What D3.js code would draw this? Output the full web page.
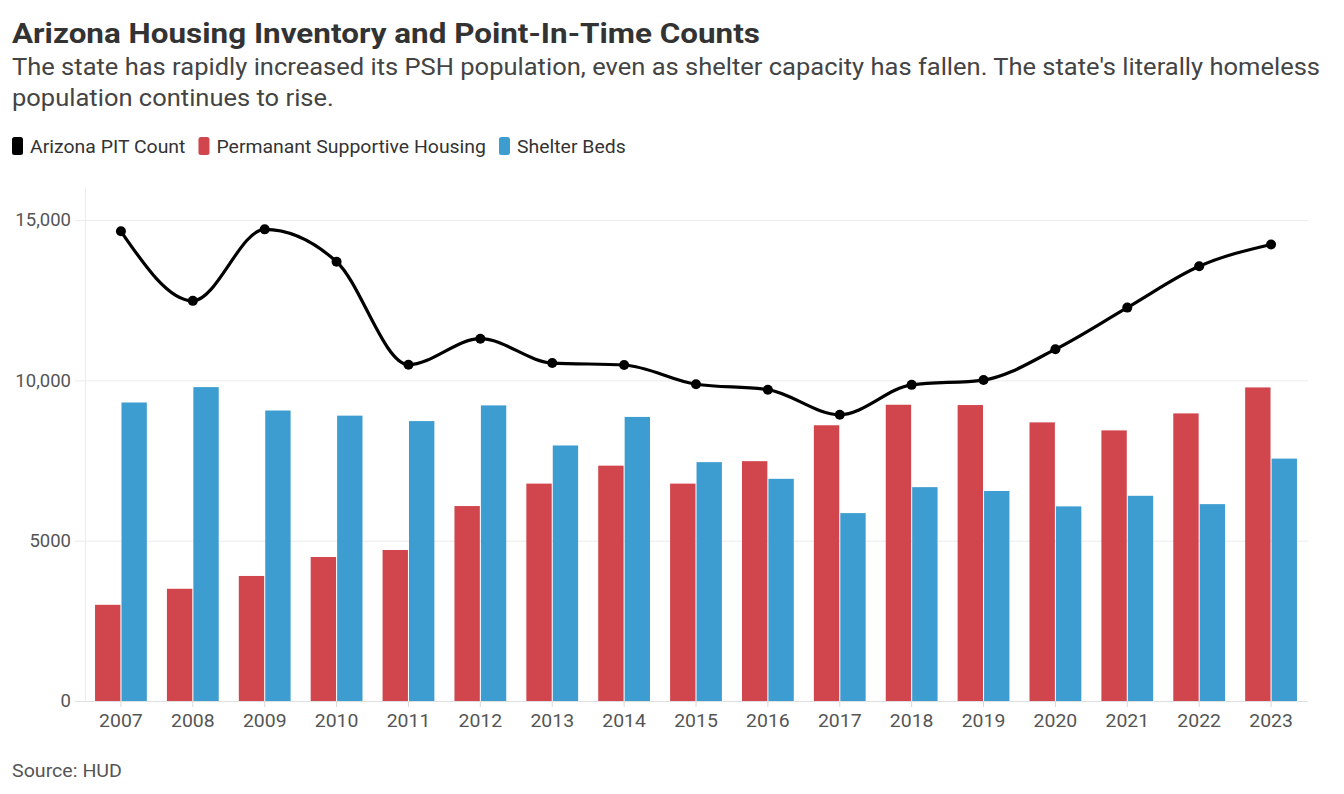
<!DOCTYPE html>
<html>
<head>
<meta charset="utf-8">
<script src="https://cdn.jsdelivr.net/npm/d3@7"></script>
<style>
  html, body { margin: 0; padding: 0; background: #fff; }
  svg { display: block; font-family: Roboto, "Noto Sans", sans-serif; }
</style>
</head>
<body>
<svg id="chart" width="1344" height="794"></svg>
<script>
// Arizona housing inventory and point-in-time counts, HUD
const years = ["2007","2008","2009","2010","2011","2012","2013","2014","2015","2016","2017","2018","2019","2020","2021","2022","2023"];
const pitCount = [14650, 12480, 14710, 13700, 10490, 11300, 10540, 10480, 9880, 9710, 8930, 9860, 10010, 10970, 12270, 13560, 14240];
const pshBeds = [3000, 3500, 3900, 4490, 4710, 6080, 6780, 7340, 6780, 7480, 8600, 9240, 9230, 8690, 8440, 8970, 9780];
const shelterBeds = [9310, 9790, 9060, 8900, 8730, 9220, 7970, 8860, 7450, 6930, 5860, 6670, 6550, 6070, 6400, 6140, 7560];
const yTicks = [0, 5000, 10000, 15000];
const yTickLabels = ["0", "5000", "10,000", "15,000"];

const legendItems = [
  { label: "Arizona PIT Count", color: "#000000" },
  { label: "Permanant Supportive Housing", color: "#d1454c" },
  { label: "Shelter Beds", color: "#3e9dd0" }
];

// Text in this layout is set slightly wide; stretch each run by a common factor.
function widen(sel, factor) {
  sel.each(function () {
    const w = this.getComputedTextLength();
    d3.select(this).attr("textLength", w * factor).attr("lengthAdjust", "spacingAndGlyphs");
  });
  return sel;
}

const svg = d3.select("#chart");

// Header text
const title = svg.append("text").attr("x", 12).attr("y", 43)
  .attr("font-size", 28.5).attr("font-weight", 700).attr("fill", "#333")
  .text("Arizona Housing Inventory and Point-In-Time Counts");
title.attr("textLength", 748).attr("lengthAdjust", "spacingAndGlyphs");

const subtitle = [
  "The state has rapidly increased its PSH population, even as shelter capacity has fallen. The state's literally homeless",
  "population continues to rise."
];
const sub = svg.append("g").selectAll("text").data(subtitle).join("text")
  .attr("x", 12).attr("y", (d, i) => 75 + i * 31)
  .attr("font-size", 23.5).attr("fill", "#444")
  .text(d => d);
const subW = sub.nodes()[0].getComputedTextLength();
widen(sub, 1308 / subW);

// Legend
const legend = svg.append("g").attr("transform", "translate(12,146)");
let lx = 0;
legendItems.forEach(item => {
  const g = legend.append("g").attr("transform", `translate(${lx},0)`);
  g.append("rect").attr("x", 0).attr("y", -9).attr("width", 11).attr("height", 18)
    .attr("rx", 2.5).attr("fill", item.color);
  const t = g.append("text").attr("x", 18).attr("y", 6.5)
    .attr("font-size", 18.5).attr("fill", "#333").text(item.label);
  const w = t.node().getComputedTextLength() * 1.05;
  t.attr("textLength", w).attr("lengthAdjust", "spacingAndGlyphs");
  lx += 18 + w + 13;
});

// Scales
const margin = { left: 85, right: 1307, top: 188, bottom: 701 };
const x = d3.scaleBand().domain(years).range([margin.left, margin.right])
  .paddingInner(0.25).paddingOuter(0.125);
const xSub = d3.scaleBand().domain(["psh", "shelter"]).range([0, x.bandwidth()]).padding(0.04);
const y = d3.scaleLinear().domain([0, 16000]).range([margin.bottom, margin.top]);

// Vertical axis line
svg.append("line").attr("x1", 85.5).attr("x2", 85.5).attr("y1", margin.top).attr("y2", margin.bottom)
  .attr("stroke", "#ebebeb");

// Gridlines and y axis
const yAxis = d3.axisLeft(y).tickValues(yTicks)
  .tickFormat((d, i) => yTickLabels[i])
  .tickSize(-(1308 - 75)).tickPadding(4);
const gy = svg.append("g").attr("transform", "translate(75,0)").call(yAxis);
gy.select(".domain").remove();
gy.selectAll(".tick line").attr("stroke", "#ebebeb");
gy.selectAll(".tick text").attr("font-size", 18.5).attr("fill", "#555")
  .attr("font-family", "Roboto, sans-serif");

// X axis
const xAxis = d3.axisBottom(x).tickSize(6).tickPadding(7);
const gx = svg.append("g").attr("transform", `translate(0,${margin.bottom})`).call(xAxis);
gx.select(".domain").attr("stroke", "#e0e0e0").attr("d", `M75,0.5H1308`);
gx.selectAll(".tick line").attr("stroke", "#d8d8d8");
const xt = gx.selectAll(".tick text").attr("font-size", 18.5).attr("fill", "#555")
  .attr("font-family", "Roboto, sans-serif");
widen(xt, 1.05);

// Bars
const groups = svg.append("g").selectAll("g").data(years).join("g")
  .attr("transform", d => `translate(${x(d)},0)`);
groups.append("rect")
  .attr("x", xSub("psh")).attr("width", xSub.bandwidth())
  .attr("y", (d, i) => y(pshBeds[i])).attr("height", (d, i) => y(0) - y(pshBeds[i]))
  .attr("fill", legendItems[1].color);
groups.append("rect")
  .attr("x", xSub("shelter")).attr("width", xSub.bandwidth())
  .attr("y", (d, i) => y(shelterBeds[i])).attr("height", (d, i) => y(0) - y(shelterBeds[i]))
  .attr("fill", legendItems[2].color);

// PIT count line
const cx = d => x(d) + x.bandwidth() / 2;
const line = d3.line().x((d, i) => cx(years[i])).y(d => y(d)).curve(d3.curveMonotoneX);
svg.append("path").datum(pitCount).attr("d", line)
  .attr("fill", "none").attr("stroke", "#000").attr("stroke-width", 3.2);
svg.append("g").selectAll("circle").data(pitCount).join("circle")
  .attr("cx", (d, i) => cx(years[i])).attr("cy", d => y(d)).attr("r", 5)
  .attr("fill", "#000");

// Source note
const src = svg.append("text").attr("x", 12).attr("y", 777)
  .attr("font-size", 18.5).attr("fill", "#555").text("Source: HUD");
widen(src, 1.06);
</script>
</body>
</html>
